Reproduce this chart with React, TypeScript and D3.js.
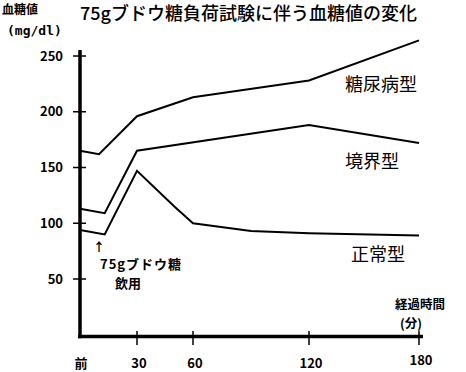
import React from "react";
import * as d3 from "d3";

// 時間(分) と血糖値 (mg/dl)
const diabetesTimes = [0, 10, 30, 60, 120, 180];
const diabetesValues = [165, 162, 196, 213, 228, 264];
const borderlineTimes = [0, 13, 30, 120, 180];
const borderlineValues = [113, 109, 165, 188, 172];
const normalTimes = [0, 13, 30, 50, 60, 90, 120, 180];
const normalValues = [94, 90, 147, 115, 100, 93, 91, 89];

const yTicks = [50, 100, 150, 200, 250];
const xTicks = [0, 30, 60, 120, 180];
const xTickLabels = ["前", "30", "60", "120", "180"];

const seriesNames = ["糖尿病型", "境界型", "正常型"];

const font = "'Noto Sans CJK JP', 'Noto Sans', sans-serif";

const App = () => {
  const width = 466,
    height = 372;

  const x = d3
    .scaleLinear()
    .domain([0, 30, 60, 120, 180])
    .range([80, 137, 193, 309, 419]);

  const y = d3.scaleLinear().domain([0, 250]).range([334.75, 56]);

  const line = d3
    .line<[number, number]>()
    .x((d) => x(d[0]))
    .y((d) => y(d[1]));

  const series = [
    { name: seriesNames[0], pts: diabetesTimes.map((t, i) => [t, diabetesValues[i]] as [number, number]), lx: 345, ly: 85 },
    { name: seriesNames[1], pts: borderlineTimes.map((t, i) => [t, borderlineValues[i]] as [number, number]), lx: 345, ly: 162 },
    { name: seriesNames[2], pts: normalTimes.map((t, i) => [t, normalValues[i]] as [number, number]), lx: 351, ly: 255 },
  ];

  const axisY = 336.5;

  return (
    <svg
      width={width}
      height={height}
      style={{ position: "absolute", left: 0, top: 0, background: "#fff" }}
      fontFamily={font}
    >
      {/* タイトル */}
      <text x={80} y={14} dy="0.35em" fontSize={18} fontWeight={500}>
        75gブドウ糖負荷試験に伴う血糖値の変化
      </text>
      <text x={2} y={10} dy="0.35em" fontSize={12} fontWeight={700}>
        血糖値
      </text>
      <text x={7} y={30} dy="0.35em" fontSize={13} fontWeight={700} fontFamily="'DejaVu Sans Mono', monospace">
        (mg/dl)
      </text>

      {/* 軸 */}
      <line x1={80} x2={80} y1={50} y2={axisY + 1.75} stroke="#000" strokeWidth={3.5} />
      <line x1={78} x2={423} y1={axisY} y2={axisY} stroke="#000" strokeWidth={3.5} />

      {yTicks.map((v) => (
        <g key={v}>
          <line x1={73} x2={86} y1={y(v)} y2={y(v)} stroke="#000" strokeWidth={1.5} />
          <text x={63} y={y(v)} dy="0.35em" textAnchor="end" fontSize={13} fontWeight={700}>
            {v}
          </text>
        </g>
      ))}

      {xTicks.map((t, i) =>
        <g key={t}>
          {i > 0 && (
            <line x1={x(t)} x2={x(t)} y1={331} y2={345} stroke="#000" strokeWidth={1.5} />
          )}
          <text
            x={i === 0 ? 81 : x(t) + 2}
            y={i === 4 ? 360 : 363}
            dy="0.35em"
            textAnchor="middle"
            fontSize={13}
            fontWeight={700}
          >
            {xTickLabels[i]}
          </text>
        </g>
      )}

      <text x={395} y={305} dy="0.35em" fontSize={12.5} fontWeight={700}>
        経過時間
      </text>
      <text x={400} y={324} dy="0.35em" fontSize={12.5} fontWeight={700}>
        (分)
      </text>

      {/* 系列 */}
      {series.map((s) => (
        <g key={s.name}>
          <path d={line(s.pts) ?? ""} fill="none" stroke="#000" strokeWidth={2} />
          <text x={s.lx} y={s.ly} dy="0.35em" fontSize={18}>
            {s.name}
          </text>
        </g>
      ))}

      {/* 注記 */}
      <text x={99} y={248} dy="0.35em" textAnchor="middle" fontSize={12} fontWeight={700}>
        ↑
      </text>
      <text x={100} y={264} dy="0.35em" fontSize={13} fontWeight={700} letterSpacing={1}>
        75gブドウ糖
      </text>
      <text x={115} y={283} dy="0.35em" fontSize={13} fontWeight={700}>
        飲用
      </text>
    </svg>
  );
};

export default App;
